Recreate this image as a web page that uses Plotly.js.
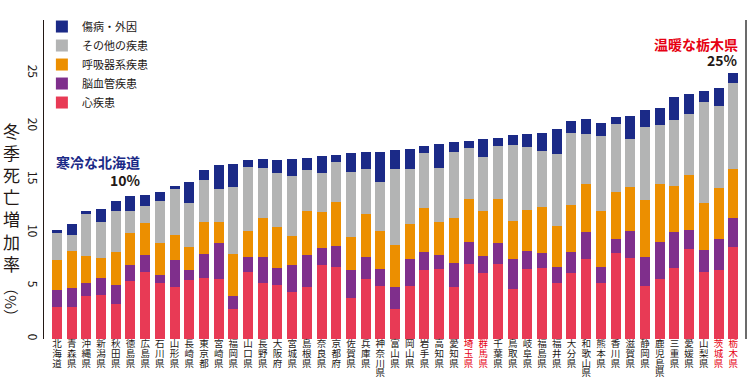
<!DOCTYPE html>
<html><head><meta charset="utf-8">
<script src="https://cdn.plot.ly/plotly-3.0.1.min.js"></script>
<style>body{margin:0;background:#fff}#c{width:747px;height:380px}</style>
</head><body><div id="c"></div>
<script>
const categories = ["北海道","青森県","沖縄県","新潟県","秋田県","徳島県","広島県","石川県","山形県","長崎県","東京都","宮崎県","福岡県","山口県","長野県","大阪府","宮城県","島根県","奈良県","京都府","佐賀県","兵庫県","神奈川県","富山県","岡山県","岩手県","高知県","愛知県","埼玉県","群馬県","千葉県","鳥取県","岐阜県","福島県","福井県","大分県","和歌山県","熊本県","香川県","滋賀県","静岡県","鹿児島県","三重県","愛媛県","山梨県","茨城県","栃木県"];
const highlighted = ["埼玉県","群馬県","茨城県","栃木県"];
const heart = [3.0,3.0,4.0,4.1,3.3,5.45,6.3,5.25,4.85, 5.55,5.7,5.65,2.85,6.3,5.25,5.1,4.4,4.9,6.95, 6.8,3.85,5.65,5.0,2.8,5.0,6.45,6.6,4.85, 7.1,6.2,7.1,4.7,6.6,6.7,5.25,6.2,7.5, 5.25,8.05,7.65,5.0,5.6,6.7,8.45,6.3,6.45,8.65];
const cerebro = [1.6,1.8,1.3,1.6,1.75,1.5,1.6,0.75,2.6, 0.95,2.3,3.35,1.15,1.4,2.45,1.6,2.55,3.0,1.6, 1.95,2.65,2.1,1.55,2.1,2.55,1.75,1.3,2.3, 2.05,1.6,1.9,2.85,1.7,1.4,1.5,1.95,2.55, 1.5,1.4,2.5,2.7,3.55,3.4,1.8,2.1,3.0,2.75];
const resp = [2.8,3.45,2.5,1.95,3.1,3.0,3.0,3.0,2.3, 2.15,3.0,2.05,3.95,2.5,3.7,3.8,2.75,4.1,3.4, 4.15,3.1,4.0,3.6,3.9,3.3,4.15,3.15,4.2, 4.0,4.2,4.15,3.55,3.8,4.35,3.9,4.45,4.5, 5.3,4.4,4.1,5.35,5.45,4.3,5.2,4.4,4.75,4.6];
const other = [2.6,1.5,4.0,3.4,3.85,2.1,1.65,4.0,4.35, 4.1,4.0,3.05,6.35,6.0,4.7,5.15,5.65,3.85,3.65, 3.7,6.1,4.2,4.65,7.2,5.15,5.15,5.05,6.25, 4.85,5.1,5.0,7.1,6.0,5.25,6.75,6.8,4.7, 7.0,6.35,4.55,6.9,5.5,6.2,5.7,9.45,7.75,8.1];
const injury = [0.25,1.05,0.2,1.2,1.0,1.4,0.95,0.85,0.3, 2.0,0.9,2.25,2.2,0.65,0.8,1.2,1.6,1.15,1.6, 0.7,1.75,1.65,2.8,1.8,1.85,0.65,2.25,0.95, 0.65,1.7,0.75,0.95,1.2,1.65,2.35,1.1,1.4, 1.3,0.65,2.15,1.55,1.6,2.2,1.9,1.05,1.65,0.9];
const seriesNames = ["心疾患","脳血管疾患","呼吸器系疾患","その他の疾患","傷病・外因"];
const yTicks = [0,5,10,15,20,25];

const colors = ["#E83A55","#7F2F8C","#EC8F00","#B3B4B4","#1B2A87"];
const values = [heart, cerebro, resp, other, injury];
const FONT = "'Noto Sans CJK JP', 'Noto Sans', sans-serif";

const traces = values.map((v,i)=>({
  type:'bar', name:seriesNames[i], x:categories, y:v,
  marker:{color:colors[i], line:{width:0}}
}));

const ticktext = categories.map(c=>{
  const col = highlighted.includes(c) ? '#E60012' : '#231815';
  return c.split('').map(ch=>`<span style="font-size:9.5px;color:${col}">${ch}</span>`).join('<br>');
});

const layout = {
  width:747, height:380,
  margin:{l:44, r:1, t:20, b:41},
  paper_bgcolor:'#fff', plot_bgcolor:'#fff',
  barmode:'stack', bargap:0.32,
  font:{family:FONT, color:'#231815'},
  showlegend:true,
  legend:{x:-0.003, xanchor:'left', y:1.025, yanchor:'top', traceorder:'reversed',
          font:{size:11, color:'#231815'}, bgcolor:'rgba(0,0,0,0)', itemclick:false},
  xaxis:{type:'category', range:[-0.88,46.87], tickmode:'array', tickvals:categories, ticktext:ticktext,
         tickangle:0, tickfont:{size:7.4, family:FONT}, showline:false, showgrid:false, ticks:'', automargin:false, fixedrange:true},
  yaxis:{range:[0,30], tickvals:yTicks, ticktext:yTicks.map(String), tickangle:90, tickfont:{size:12, color:'#231815'},
         showline:true, linecolor:'#231815', linewidth:1.5, showgrid:false, zeroline:false, ticks:'', ticklabelstandoff:0, automargin:false},
  shapes:[{type:'line', xref:'paper', yref:'paper', x0:1, x1:1, y0:0, y1:1, line:{color:'#6b6b6b', width:2}}],
  annotations:[
    {xref:'paper', yref:'paper', x:-0.046, y:(339-197)/319, xanchor:'center', yanchor:'middle', showarrow:false,
     text:'冬<br>季<br>死<br>亡<br>増<br>加<br>率', font:{size:17, color:'#231815', family:FONT}},
    {xref:'paper', yref:'paper', x:-0.046, y:(339-302)/319, xanchor:'center', yanchor:'middle', showarrow:false, textangle:90,
     text:'（%）', font:{size:15, color:'#231815', family:FONT}},
    {xref:'x', yref:'y', x:categories[2], xshift:12, y:16.6, xanchor:'center', yanchor:'middle', showarrow:false,
     text:'<b>寒冷な北海道</b>', font:{size:14, color:'#1B2A87', family:FONT}},
    {xref:'x', yref:'y', x:categories[4], xshift:10, y:15.0, xanchor:'center', yanchor:'middle', showarrow:false,
     text:'<b>10%</b>', font:{size:14, color:'#231815', family:FONT}},
    {xref:'paper', yref:'paper', x:0.992, y:(339-44)/319, xanchor:'right', yanchor:'middle', showarrow:false,
     text:'<b>温暖な栃木県</b>', font:{size:14, color:'#E60012', family:FONT}},
    {xref:'paper', yref:'paper', x:0.992, y:(339-60)/319, xanchor:'right', yanchor:'middle', showarrow:false,
     text:'<b>25%</b>', font:{size:14, color:'#231815', family:FONT}}
  ]
};
Plotly.newPlot('c', traces, layout, {displayModeBar:false, staticPlot:true});
</script></body></html>
